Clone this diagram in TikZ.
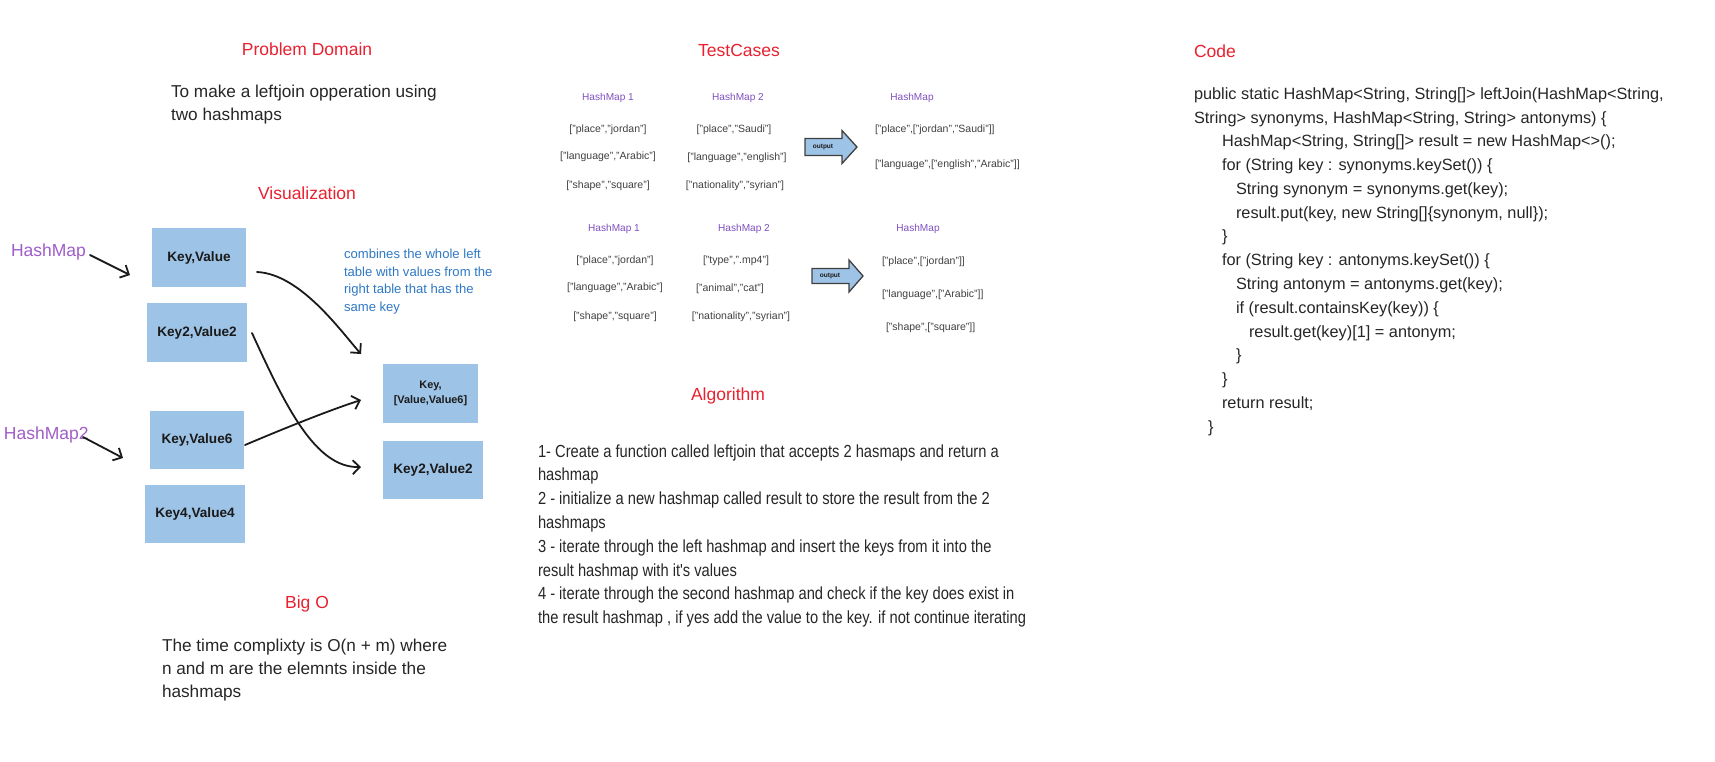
\documentclass[tikz,border=0pt]{standalone}
\usepackage{fontspec}
\setmainfont{Liberation Sans}
\newfontfamily\narrowf[FakeStretch=0.84]{Liberation Sans}
\usetikzlibrary{arrows.meta,calc}
\definecolor{headred}{HTML}{E8202F}
\definecolor{bodytxt}{HTML}{262626}
\definecolor{hmpurple}{HTML}{A05CC8}
\definecolor{tcpurple}{HTML}{7F4FBF}
\definecolor{boxblue}{HTML}{9DC3E6}
\definecolor{noteblue}{HTML}{2F78C4}
\definecolor{tcgray}{HTML}{404040}
\definecolor{ink}{HTML}{1A1A1A}
\begin{document}
\begin{tikzpicture}[x=1pt,y=-1pt,
  every node/.style={inner sep=0pt,outer sep=0pt},
  head/.style={text=headred,font=\fontsize{17.5}{21}\selectfont,anchor=base},
  body/.style={text=bodytxt,font=\fontsize{17.2}{23}\selectfont,anchor=base west,align=left},
  algo/.style={text=bodytxt,font=\narrowf\fontsize{17.5}{23.8}\selectfont,anchor=base west,align=left},
  code/.style={text=bodytxt,font=\fontsize{16.3}{20}\selectfont,anchor=base west},
  kvbox/.style={fill=boxblue,text=ink,font=\bfseries\fontsize{13.6}{16}\selectfont,align=center},
  hmlabel/.style={text=hmpurple,font=\fontsize{17.5}{21}\selectfont,anchor=base west},
  note/.style={text=noteblue,font=\fontsize{13.1}{17.7}\selectfont,anchor=base west,align=left},
  tclabel/.style={text=tcpurple,font=\fontsize{10.1}{12}\selectfont},
  tcitem/.style={text=tcgray,font=\fontsize{10.5}{12}\selectfont},
  outshape/.style={draw=tcgray,line width=1.3pt,fill=boxblue,line join=miter},
  outtext/.style={text=ink,font=\bfseries\fontsize{6.5}{8}\selectfont},
  pen/.style={draw=ink,line width=1.8pt,line cap=round,-{Straight Barb[length=7pt,width=14pt]}}
]
\useasboundingbox (0,0) rectangle (1715,761);

% ---------- Problem domain ----------
\node[head] (hpd) at (307,55) {Problem Domain};
% anchor = baseline of the last line
\node[body] (tpd) at (171,120) {To make a leftjoin opperation using\\two hashmaps};

% ---------- Visualization ----------
\node[head] (hviz) at (307,199) {Visualization};
\node[hmlabel] (hm1) at (11,256) {HashMap};
\node[hmlabel] (hm2) at (4,439) {HashMap2};

\node[kvbox,minimum width=94pt,minimum height=59pt] (kv)  at (199,257.5) {Key,Value};
\node[kvbox,minimum width=100pt,minimum height=59pt] (kv2) at (197,332.5) {Key2,Value2};
\node[kvbox,minimum width=94pt,minimum height=58pt] (kv6) at (197,440) {Key,Value6};
\node[kvbox,minimum width=100pt,minimum height=58pt] (kv4) at (195,514) {Key4,Value4};
\node[kvbox,minimum width=95pt,minimum height=59pt,font=\bfseries\fontsize{10.9}{15}\selectfont] (r1) at (430.5,393.5) {Key,\\{}[Value,Value6]};
\node[kvbox,minimum width=100pt,minimum height=58pt] (r2) at (433,470) {Key2,Value2};

\node[note] (nt) at (344,311.4) {combines the whole left\\table with values from the\\right table that has the\\same key};

\coordinate (a1s) at (90,255);  \coordinate (a1e) at (130,275);
\coordinate (a2s) at (83,437);  \coordinate (a2e) at (123,458);
\draw[pen] (a1s) -- (a1e);
\draw[pen] (a2s) -- (a2e);

\coordinate (s1) at (257,272); \coordinate (e1) at (361,354);
\coordinate (s2) at (252,333); \coordinate (e2) at (361,467);
\coordinate (s3) at (245,445); \coordinate (e3) at (361,400);
\draw[pen] (s1) .. controls (300,274) and (340,330) .. (e1);
\draw[pen] (s2) .. controls (285,405) and (315,468) .. (e2);
\draw[pen] (s3) .. controls (285,428) and (330,410) .. (e3);

% ---------- Big O ----------
\node[head] (hbo) at (307,608) {Big O};
\node[body] (tbo) at (162,697.5) {The time complixty is O(n + m) where\\n and m are the elemnts inside the\\hashmaps};

% ---------- Test cases ----------
\node[head] (htc) at (739,56) {TestCases};

\node[tclabel] (t1a) at (608,98) {HashMap 1};
\node[tclabel] (t1b) at (738,98) {HashMap 2};
\node[tclabel] (t1c) at (912,98) {HashMap};
\node[tcitem] (t1a1) at (608,130) {["place","jordan"]};
\node[tcitem] (t1a2) at (608,157) {["language","Arabic"]};
\node[tcitem] (t1a3) at (608,186) {["shape","square"]};
\node[tcitem] (t1b1) at (734,130) {["place","Saudi"]};
\node[tcitem] (t1b2) at (737,158) {["language","english"]};
\node[tcitem] (t1b3) at (735,186) {["nationality","syrian"]};
\node[tcitem,anchor=west] (t1c1) at (875,130) {["place",["jordan","Saudi"]]};
\node[tcitem,anchor=west] (t1c2) at (875,165) {["language",["english","Arabic"]]};
\draw[outshape] (805,138.5) -- (842,138.5) -- (842,130.5) -- (857,147) -- (842,163.5) -- (842,155.5) -- (805,155.5) -- cycle;
\node[outtext] (o1) at (823,147) {output};

\node[tclabel] (t2a) at (614,229) {HashMap 1};
\node[tclabel] (t2b) at (744,229) {HashMap 2};
\node[tclabel] (t2c) at (918,229) {HashMap};
\node[tcitem] (t2a1) at (615,261) {["place","jordan"]};
\node[tcitem] (t2a2) at (615,288) {["language","Arabic"]};
\node[tcitem] (t2a3) at (615,317) {["shape","square"]};
\node[tcitem] (t2b1) at (736,261) {["type",".mp4"]};
\node[tcitem] (t2b2) at (730,289) {["animal","cat"]};
\node[tcitem] (t2b3) at (741,317) {["nationality","syrian"]};
\node[tcitem,anchor=west] (t2c1) at (882,262) {["place",["jordan"]]};
\node[tcitem,anchor=west] (t2c2) at (882,295) {["language",["Arabic"]]};
\node[tcitem,anchor=west] (t2c3) at (886,328) {["shape",["square"]]};
\draw[outshape] (812,268.5) -- (849,268.5) -- (849,260) -- (863,276) -- (849,292) -- (849,283.5) -- (812,283.5) -- cycle;
\node[outtext] (o2) at (830,276) {output};

% ---------- Algorithm ----------
\node[head] (hal) at (728,400) {Algorithm};
\node[algo] (tal) at (538,623.6) {1- Create a function called leftjoin that accepts 2 hasmaps and return a\\hashmap\\2 - initialize a new hashmap called result to store the result from the 2\\hashmaps\\3 - iterate through the left hashmap and insert the keys from it into the\\result hashmap with it's values\\4 - iterate through the second hashmap and check if the key does exist in\\the result hashmap , if yes add the value to the key. if not continue iterating};

% ---------- Code ----------
\node[head,anchor=base west] (hco) at (1194,57) {Code};
\node[code] (c0)  at (1194,99.3)  {public static HashMap<String, String[]> leftJoin(HashMap<String,};
\node[code] (c1)  at (1194,123.1) {String> synonyms, HashMap<String, String> antonyms) \{};
\node[code] (c2)  at (1222,146.8) {HashMap<String, String[]> result = new HashMap<>();};
\node[code] (c3)  at (1222,170.6) {for (String key : synonyms.keySet()) \{};
\node[code] (c4)  at (1236,194.4) {String synonym = synonyms.get(key);};
\node[code] (c5)  at (1236,218.2) {result.put(key, new String[]\{synonym, null\});};
\node[code] (c6)  at (1222,241.9) {\}};
\node[code] (c7)  at (1222,265.7) {for (String key : antonyms.keySet()) \{};
\node[code] (c8)  at (1236,289.5) {String antonym = antonyms.get(key);};
\node[code] (c9)  at (1236,313.2) {if (result.containsKey(key)) \{};
\node[code] (c10) at (1249,337.0) {result.get(key)[1] = antonym;};
\node[code] (c11) at (1236,360.8) {\}};
\node[code] (c12) at (1222,384.5) {\}};
\node[code] (c13) at (1222,408.3) {return result;};
\node[code] (c14) at (1208,432.1) {\}};
\end{tikzpicture}
\end{document}
